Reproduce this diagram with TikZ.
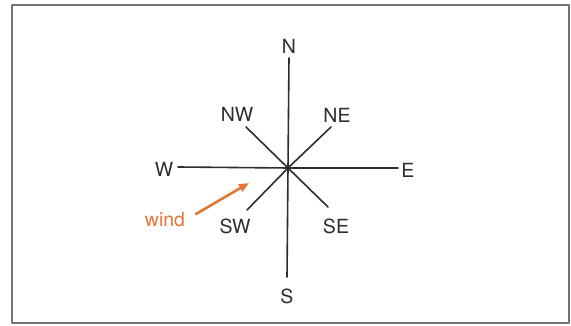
\documentclass[tikz,border=0pt]{standalone}
\usepackage{fontspec}
\setmainfont{TeX Gyre Heros}
\usetikzlibrary{arrows.meta}
\definecolor{windorange}{RGB}{228,118,56}
\definecolor{inkgray}{RGB}{45,45,45}

\begin{document}
\begin{tikzpicture}[x=1pt,y=-1pt,line cap=round,line join=round,
  dirlabel/.style={font=\fontsize{19.5}{22}\selectfont,text=inkgray,inner sep=0pt},
  ray/.style={inkgray,line width=1.6pt},
  windarrow/.style={-{Triangle[length=10pt,width=8pt]},windorange,line width=2.6pt}]
\useasboundingbox (0,0) rectangle (571,326);
\draw[black!55,line width=1.4pt] (12,5) rectangle (569,323);
% centre and end points of the rays
\coordinate (c) at (288,168);
\coordinate (n) at (289,58);
\coordinate (s) at (287,277);
\coordinate (w) at (178,167);
\coordinate (e) at (398,168);
\coordinate (ne) at (331,127);
\coordinate (nw) at (246,127);
\coordinate (se) at (328,207);
\coordinate (sw) at (247,210);
\foreach \p in {n,s,w,e,ne,nw,se,sw}
  \draw[ray] (c) -- (\p);
% labels
\node[dirlabel] (lN) at (289,46) {N};
\node[dirlabel] (lS) at (287,296) {S};
\node[dirlabel] (lW) at (164,169) {W};
\node[dirlabel] (lE) at (408,170) {E};
\node[dirlabel] (lNE) at (337,115) {NE};
\node[dirlabel] (lNW) at (237,114) {NW};
\node[dirlabel] (lSE) at (336,226) {SE};
\node[dirlabel] (lSW) at (235,226) {SW};
% wind
\node[dirlabel,text=windorange] (wind) at (165,220) {wind};
\coordinate (wtail) at (196,214);
\coordinate (wtip) at (249,183);
\draw[windarrow] (wtail) -- (wtip);
\end{tikzpicture}
\end{document}
